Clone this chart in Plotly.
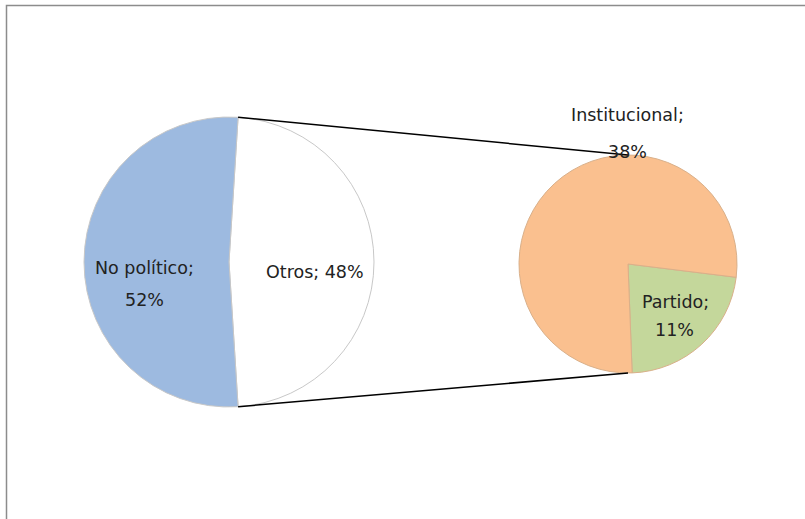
import math
import plotly.graph_objects as go

# ---- data ----
main_labels = ["Otros", "No político"]
main_values = [48, 52]
sub_labels = ["Partido", "Institucional"]
sub_values = [11, 38]

main_colors = ["#FFFFFF", "#9DBAE0"]
sub_colors = ["#C4D79B", "#FAC08F"]

W, H = 805, 519

def px(x):
    return x / W

def py(y):
    return 1 - y / H

# geometry (pixels)
L_CX, L_CY, L_R = 229, 262, 145
R_CX, R_CY, R_R = 628, 264, 109

# main pie: the "Otros" slice is centred at 3 o'clock
otros_share = main_values[0] / sum(main_values)
main_rot = 90 - otros_share * 360 / 2

sub_rot = 97

fig = go.Figure()
fig.add_trace(go.Pie(
    labels=main_labels, values=main_values, sort=False, direction="clockwise",
    rotation=main_rot, textinfo="none", hoverinfo="label+percent",
    marker=dict(colors=main_colors, line=dict(color="#C8C8C8", width=1)),
    domain=dict(x=[px(L_CX - L_R), px(L_CX + L_R)], y=[py(L_CY + L_R), py(L_CY - L_R)]),
    showlegend=False,
))
fig.add_trace(go.Pie(
    labels=sub_labels, values=sub_values, sort=False, direction="clockwise",
    rotation=sub_rot, textinfo="none", hoverinfo="label+value",
    marker=dict(colors=sub_colors, line=dict(color="#D9B08A", width=1)),
    domain=dict(x=[px(R_CX - R_R), px(R_CX + R_R)], y=[py(R_CY + R_R), py(R_CY - R_R)]),
    showlegend=False,
))

# connector lines from the edges of the "Otros" slice to the top/bottom of the second pie
a1 = math.radians(main_rot)
a2 = math.radians(main_rot + otros_share * 360)
p_top = (L_CX + L_R * math.sin(a1), L_CY - L_R * math.cos(a1))
p_bot = (L_CX + L_R * math.sin(a2), L_CY - L_R * math.cos(a2))
q_top = (R_CX, R_CY - R_R)
q_bot = (R_CX, R_CY + R_R)

shapes = [
    dict(type="line", xref="paper", yref="paper",
         x0=px(p_top[0]), y0=py(p_top[1]), x1=px(q_top[0]), y1=py(q_top[1]),
         line=dict(color="black", width=1.5)),
    dict(type="line", xref="paper", yref="paper",
         x0=px(p_bot[0]), y0=py(p_bot[1]), x1=px(q_bot[0]), y1=py(q_bot[1]),
         line=dict(color="black", width=1.5)),
    # chart frame
    dict(type="rect", xref="paper", yref="paper",
         x0=px(6.5), y0=py(530), x1=px(820), y1=py(5.5),
         line=dict(color="#8C8C8C", width=1.5), fillcolor="rgba(0,0,0,0)"),
]

font = dict(family="DejaVu Sans", size=17.5, color="#222222")

def lab(text, x, y):
    return dict(text=text, x=px(x), y=py(y), xref="paper", yref="paper",
                showarrow=False, font=font, xanchor="center", yanchor="middle")

annotations = [
    lab(f"{main_labels[1]};", 144, 268),
    lab(f"{main_values[1]}%", 144, 300),
    lab(f"{main_labels[0]}; {main_values[0]}%", 315, 272),
    lab(f"{sub_labels[1]};", 627, 115),
    lab(f"{sub_values[1]}%", 627, 152),
    lab(f"{sub_labels[0]};", 675, 302),
    lab(f"{sub_values[0]}%", 674, 330),
]

fig.update_layout(
    width=W, height=H, margin=dict(l=0, r=0, t=0, b=0),
    paper_bgcolor="white", plot_bgcolor="white",
    shapes=shapes, annotations=annotations,
)

fig.write_html("out.html", config={"displayModeBar": False},
               post_script="document.body.style.margin='0';")
